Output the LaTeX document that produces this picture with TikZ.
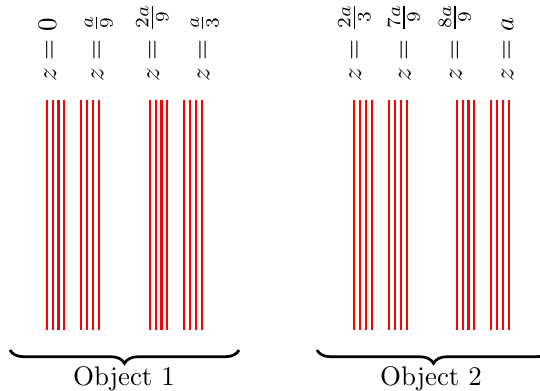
\documentclass[tikz,border=0pt]{standalone}
\usetikzlibrary{decorations.pathreplacing}
\begin{document}
\begin{tikzpicture}[x=0.3717pt,y=-0.3717pt,
  plate/.style={red,line width=0.8pt},
  zlabel/.style={rotate=90,anchor=base west,inner sep=0pt},
  bracestyle/.style={decorate,decoration={brace,amplitude=5pt},line width=1pt},
  objlabel/.style={anchor=base,inner sep=0pt}]
\useasboundingbox (0,0) rectangle (540,391);
% red plates
\foreach \s in {46.7,81,149.7,184,354.3,389,456.7,491}{
  \foreach \k in {0,1,2,3}{
    \draw[plate] (\s+5.9*\k,100) -- (\s+5.9*\k,330.5);
  }
}
% labels
\node[zlabel] (l1) at (56,82) {$z=0$};
\node[zlabel] (l2) at (103.4,82) {$z=\frac{a}{9}$};
\node[zlabel] (l3) at (159,82) {$z=\frac{2a}{9}$};
\node[zlabel] (l4) at (209.4,82) {$z=\frac{a}{3}$};
\node[zlabel] (l5) at (361,82) {$z=\frac{2a}{3}$};
\node[zlabel] (l6) at (410.7,82) {$z=\frac{7a}{9}$};
\node[zlabel] (l7) at (461.7,82) {$z=\frac{8a}{9}$};
\node[zlabel] (l8) at (513.4,82) {$z=a$};
% braces
\coordinate (b1r) at (239,350);
\coordinate (b1l) at (10,350);
\coordinate (b2r) at (550,350);
\coordinate (b2l) at (317,350);
\draw[bracestyle] (b1r) -- (b1l);
\draw[bracestyle] (b2r) -- (b2l);
\node[objlabel] (o1) at (124,386) {Object 1};
\node[objlabel] (o2) at (431,386) {Object 2};
\end{tikzpicture}
\end{document}
